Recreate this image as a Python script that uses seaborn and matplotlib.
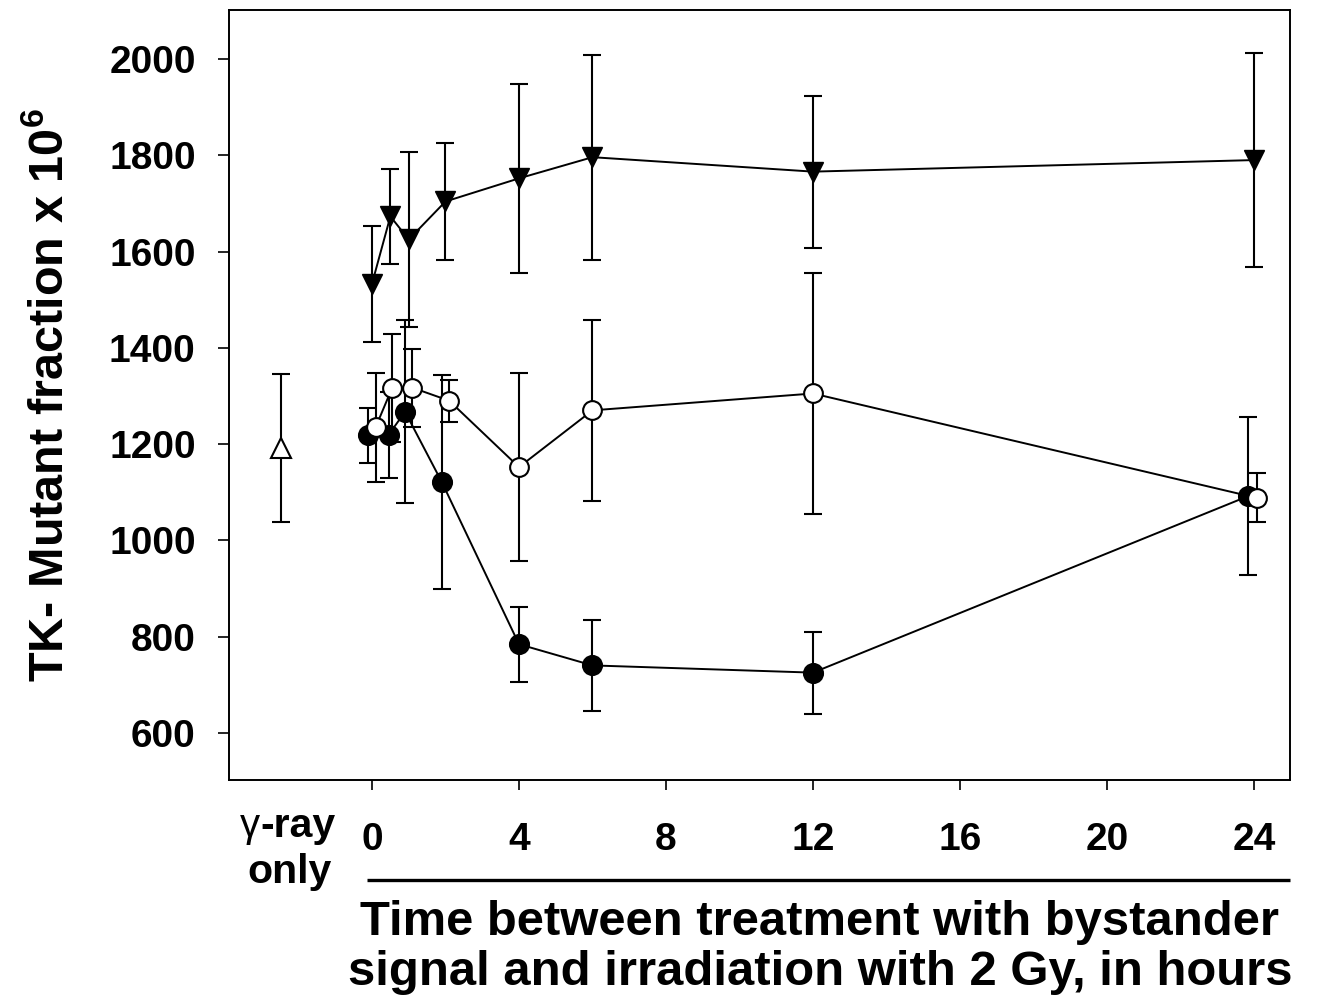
import numpy as np
import pandas as pd
import matplotlib
matplotlib.use("Agg")
import matplotlib.pyplot as plt
import seaborn as sns

# --- data -------------------------------------------------------------
time_h = [0, 0.5, 1, 2, 4, 6, 12, 24]
x_ticks = [0, 4, 8, 12, 16, 20, 24]
y_ticks = [600, 800, 1000, 1200, 1400, 1600, 1800, 2000]

# small horizontal nudges so overlapping points stay visible
dodge_filled = [-0.1, -0.05, -0.1, -0.1, 0, 0, 0, -0.15]
dodge_open = [0.1, 0.05, 0.1, 0.1, 0, 0, 0, 0.08]

down_mean = [1533, 1673, 1625, 1704, 1752, 1796, 1766, 1790]
down_err = [121, 98, 182, 122, 197, 213, 158, 222]

open_mean = [1235, 1317, 1317, 1290, 1152, 1270, 1305, 1088]
open_err = [113, 112, 81, 44, 196, 188, 251, 51]

filled_mean = [1218, 1219, 1267, 1121, 784, 740, 725, 1092]
filled_err = [57, 89, 190, 223, 78, 95, 85, 164]

gamma_x = -2.48
gamma_mean = 1192
gamma_err = 154

# --- style ------------------------------------------------------------
sns.set_theme(style="ticks", rc={
    "text.color": "black",
    "axes.labelcolor": "black",
    "axes.edgecolor": "black",
    "xtick.color": "black",
    "ytick.color": "black",
})
plt.rcParams["font.family"] = ["Liberation Sans", "DejaVu Sans"]
plt.rcParams["font.weight"] = "bold"
plt.rcParams["mathtext.fontset"] = "custom"
plt.rcParams["mathtext.rm"] = "Liberation Sans"
plt.rcParams["mathtext.bf"] = "Liberation Sans:bold"

fig = plt.figure(figsize=(13.34, 10.02), dpi=100)
ax = fig.add_axes([0.1717, 0.2216, 0.7953, 0.7685])

df_down = pd.DataFrame({"t": time_h, "v": down_mean})
df_open = pd.DataFrame({"t": np.add(time_h, dodge_open), "v": open_mean})
df_filled = pd.DataFrame({"t": np.add(time_h, dodge_filled), "v": filled_mean})

err_kw = dict(fmt="none", ecolor="black", elinewidth=1.5, capsize=6.5, capthick=1.5)

# filled circles (bottom layer)
ax.errorbar(df_filled["t"], df_filled["v"], yerr=filled_err, zorder=2, **err_kw)
sns.lineplot(data=df_filled, x="t", y="v", ax=ax, color="black", linewidth=1.4,
             marker="o", markersize=14, markerfacecolor="black",
             markeredgecolor="black", markeredgewidth=1.2, zorder=3)

# open circles
ax.errorbar(df_open["t"], df_open["v"], yerr=open_err, zorder=4, **err_kw)
sns.lineplot(data=df_open, x="t", y="v", ax=ax, color="black", linewidth=1.4,
             marker="o", markersize=13.5, markerfacecolor="white",
             markeredgecolor="black", markeredgewidth=1.5, zorder=5)

# downward triangles
ax.errorbar(df_down["t"], df_down["v"], yerr=down_err, zorder=6, **err_kw)
sns.lineplot(data=df_down, x="t", y="v", ax=ax, color="black", linewidth=1.4,
             marker="v", markersize=15, markerfacecolor="black",
             markeredgecolor="black", markeredgewidth=1.0, zorder=7)

# gamma-ray only control
ax.errorbar([gamma_x], [gamma_mean], yerr=[gamma_err], zorder=6, **err_kw)
ax.plot([gamma_x], [gamma_mean], marker="^", markersize=14, markerfacecolor="white",
        markeredgecolor="black", markeredgewidth=1.5, linestyle="none", zorder=7)

# --- axes -------------------------------------------------------------
ax.set_xlim(-3.89, 24.98)
ax.set_ylim(502, 2102)
ax.set_xticks(x_ticks)
ax.set_xticklabels([str(v) for v in x_ticks])
ax.set_yticks(y_ticks)
ax.set_yticklabels([str(v) for v in y_ticks])
ax.tick_params(axis="x", direction="out", length=7.5, width=1.2, pad=23,
               labelsize=28, top=False, colors="black")
ax.tick_params(axis="y", direction="out", length=8, width=1.2, pad=16,
               labelsize=28, right=False, colors="black")
for lab in ax.get_xticklabels() + ax.get_yticklabels():
    lab.set_fontweight("bold")
for sp in ax.spines.values():
    sp.set_visible(True)
    sp.set_linewidth(1.4)
    sp.set_color("black")

ax.set_xlabel("")
ax.set_ylabel(r"TK- Mutant fraction x 10$^{\mathbf{6}}$", fontsize=35,
              fontweight="bold", labelpad=25, color="black")

# "γ-ray only" label beside the time axis
tr = ax.get_xaxis_transform()
ax.text(-3.05, -0.074, "γ", transform=tr, ha="right", va="baseline",
        fontsize=29, fontweight="normal", color="black", clip_on=False)
ax.text(-3.05, -0.074, "-ray", transform=tr, ha="left", va="baseline",
        fontsize=29.5, fontweight="bold", color="black", clip_on=False)
ax.text(-2.24, -0.134, "only", transform=tr, ha="center", va="baseline",
        fontsize=29.5, fontweight="bold", color="black", clip_on=False)

# bracket line under the time ticks
ax.plot([0.130, 1.0], [-0.130, -0.130], transform=ax.transAxes, color="black",
        linewidth=2.4, clip_on=False, solid_capstyle="butt")

# time-axis title
ax.text(0.557, -0.2013, "Time between treatment with bystander",
        transform=ax.transAxes, ha="center", va="baseline", fontsize=35.3,
        fontweight="bold", color="black", clip_on=False)
ax.text(0.557, -0.266, "signal and irradiation with 2 Gy, in hours",
        transform=ax.transAxes, ha="center", va="baseline", fontsize=35.3,
        fontweight="bold", color="black", clip_on=False)

fig.savefig("out.png", dpi=100, facecolor="white")
